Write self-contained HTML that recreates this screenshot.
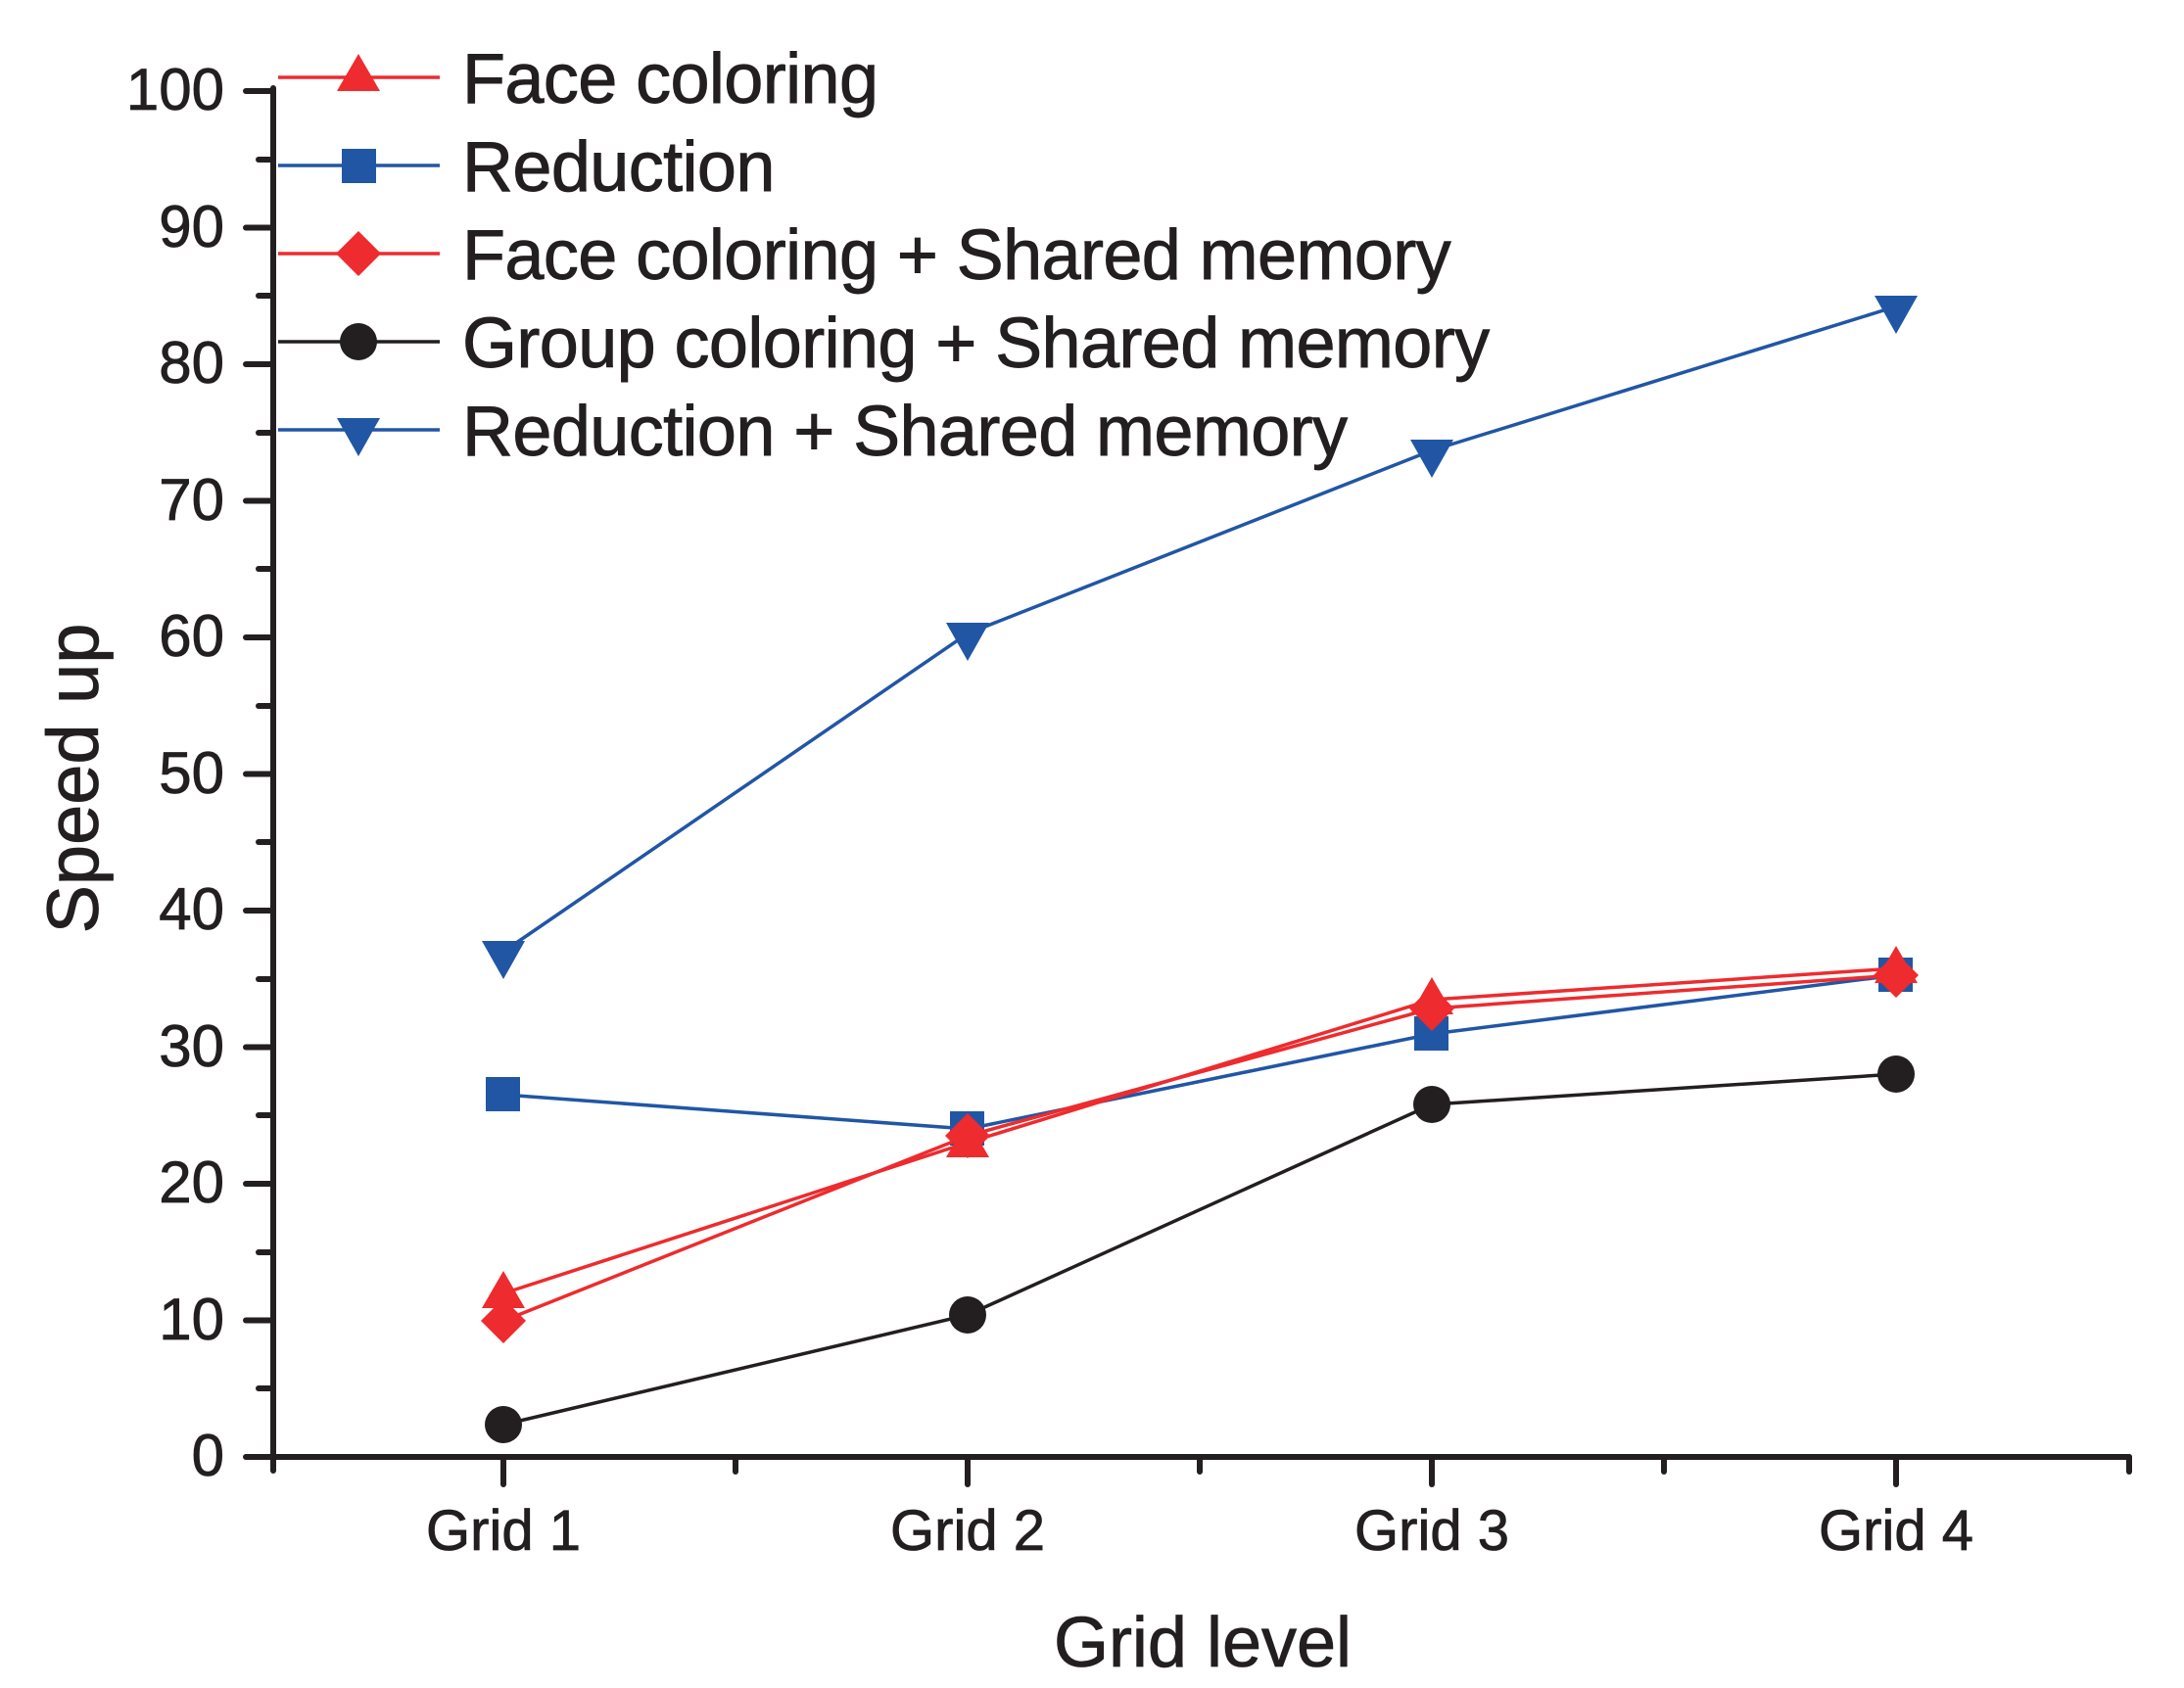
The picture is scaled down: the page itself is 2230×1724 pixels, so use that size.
<!DOCTYPE html>
<html><head><meta charset="utf-8"><style>html,body{margin:0;padding:0;background:#fff}svg{display:block}</style></head>
<body>
<svg width="2230" height="1724" viewBox="0 0 2230 1724" xmlns="http://www.w3.org/2000/svg" font-family="Liberation Sans, Arial, sans-serif" fill="#231f20">
<g stroke="#231f20" stroke-width="6" stroke-linecap="round" fill="none">
<line x1="279" y1="90" x2="279" y2="1502"/>
<line x1="276" y1="1488" x2="2174" y2="1488"/>
<line x1="2174" y1="1488" x2="2174" y2="1503"/>
<line x1="251" y1="1488" x2="279" y2="1488"/><line x1="251" y1="1348.5" x2="279" y2="1348.5"/><line x1="251" y1="1209" x2="279" y2="1209"/><line x1="251" y1="1069.5" x2="279" y2="1069.5"/><line x1="251" y1="930" x2="279" y2="930"/><line x1="251" y1="790.5" x2="279" y2="790.5"/><line x1="251" y1="651" x2="279" y2="651"/><line x1="251" y1="511.5" x2="279" y2="511.5"/><line x1="251" y1="372" x2="279" y2="372"/><line x1="251" y1="232.5" x2="279" y2="232.5"/><line x1="251" y1="93" x2="279" y2="93"/>
<line x1="264" y1="1418" x2="279" y2="1418"/><line x1="264" y1="1279" x2="279" y2="1279"/><line x1="264" y1="1139" x2="279" y2="1139"/><line x1="264" y1="1000" x2="279" y2="1000"/><line x1="264" y1="860" x2="279" y2="860"/><line x1="264" y1="721" x2="279" y2="721"/><line x1="264" y1="581" x2="279" y2="581"/><line x1="264" y1="442" x2="279" y2="442"/><line x1="264" y1="302" x2="279" y2="302"/><line x1="264" y1="163" x2="279" y2="163"/>
<line x1="514" y1="1488" x2="514" y2="1516"/><line x1="988" y1="1488" x2="988" y2="1516"/><line x1="1462" y1="1488" x2="1462" y2="1516"/><line x1="1936" y1="1488" x2="1936" y2="1516"/>
<line x1="751" y1="1488" x2="751" y2="1503"/><line x1="1225" y1="1488" x2="1225" y2="1503"/><line x1="1699" y1="1488" x2="1699" y2="1503"/>
</g>
<g font-size="60" text-anchor="end" stroke="#231f20" stroke-width="0.8">
<text x="229" y="1507">0</text><text x="229" y="1368">10</text><text x="229" y="1228">20</text><text x="229" y="1089">30</text><text x="229" y="949">40</text><text x="229" y="810">50</text><text x="229" y="670">60</text><text x="229" y="531">70</text><text x="229" y="391">80</text><text x="229" y="252">90</text><text x="229" y="112">100</text>
</g>
<g font-size="58" text-anchor="middle" stroke="#231f20" stroke-width="0.8">
<text x="514" y="1583">Grid 1</text><text x="988" y="1583">Grid 2</text><text x="1462" y="1583">Grid 3</text><text x="1936" y="1583">Grid 4</text>
</g>
<text x="1228" y="1702" font-size="72" text-anchor="middle" stroke="#231f20" stroke-width="0.8">Grid level</text>
<text transform="translate(100,795) rotate(-90)" font-size="74" text-anchor="middle" stroke="#231f20" stroke-width="0.8">Speed up</text>

<polyline fill="none" stroke="#2156a5" stroke-width="3.5" points="514,972 988,647 1462,460 1936,313"/>
<g fill="#2156a5">
<polygon points="492,961 536,961 514,1000"/><polygon points="966,636 1010,636 988,675"/><polygon points="1440,449 1484,449 1462,488"/><polygon points="1914,302 1958,302 1936,341"/>
</g>
<polyline fill="none" stroke="#2156a5" stroke-width="3.5" points="514,1118 988,1153 1462,1056 1936,996"/>
<g fill="#2156a5">
<rect x="496" y="1100" width="35" height="35"/><rect x="970" y="1135" width="35" height="35"/><rect x="1444" y="1038" width="35" height="35"/><rect x="1918" y="978" width="35" height="35"/>
</g>
<polyline fill="none" stroke="#ee2b2e" stroke-width="3.5" points="514,1321 988,1167 1462,1021 1936,989"/>
<g fill="#ee2b2e">
<polygon points="514,1298 536,1336 492,1336"/><polygon points="988,1144 1010,1182 966,1182"/><polygon points="1462,998 1484,1036 1440,1036"/><polygon points="1936,966 1958,1004 1914,1004"/>
</g>
<polyline fill="none" stroke="#ee2b2e" stroke-width="3.5" points="514,1349 988,1160 1462,1030 1936,996"/>
<g fill="#ee2b2e">
<polygon points="514,1326 537,1349 514,1372 491,1349"/><polygon points="988,1137 1011,1160 988,1183 965,1160"/><polygon points="1462,1007 1485,1030 1462,1053 1439,1030"/><polygon points="1936,973 1959,996 1936,1019 1913,996"/>
</g>
<polyline fill="none" stroke="#231f20" stroke-width="3.5" points="514,1455 988,1343 1462,1128 1936,1097"/>
<g fill="#231f20">
<circle cx="514" cy="1455" r="19"/><circle cx="988" cy="1343" r="19"/><circle cx="1462" cy="1128" r="19"/><circle cx="1936" cy="1097" r="19"/>
</g>

<g stroke-width="3.5">
<line x1="284" y1="79" x2="449" y2="79" stroke="#ee2b2e"/>
<line x1="284" y1="169" x2="449" y2="169" stroke="#2156a5"/>
<line x1="284" y1="259" x2="449" y2="259" stroke="#ee2b2e"/>
<line x1="284" y1="349" x2="449" y2="349" stroke="#231f20"/>
<line x1="284" y1="439" x2="449" y2="439" stroke="#2156a5"/>
</g>
<polygon points="366,55 388,93 344,93" fill="#ee2b2e"/>
<rect x="349" y="152" width="35" height="35" fill="#2156a5"/>
<polygon points="366,236 389,259 366,282 343,259" fill="#ee2b2e"/>
<circle cx="366" cy="349" r="19" fill="#231f20"/>
<polygon points="344,427 388,427 366,466" fill="#2156a5"/>
<g font-size="72" letter-spacing="-0.6" stroke="#231f20" stroke-width="0.9">
<text x="472" y="105">Face coloring</text>
<text x="472" y="195">Reduction</text>
<text x="472" y="285">Face coloring + Shared memory</text>
<text x="472" y="375">Group coloring + Shared memory</text>
<text x="472" y="465">Reduction + Shared memory</text>
</g>
</svg>
</body></html>
